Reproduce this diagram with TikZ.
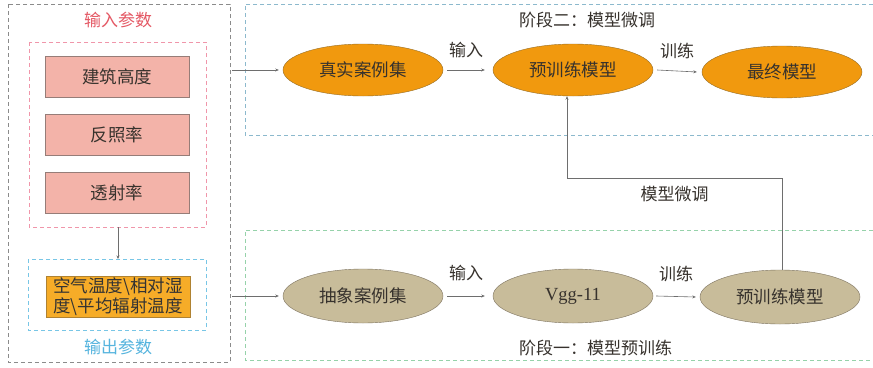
\documentclass[tikz,border=0pt]{standalone}
\usepackage{fontspec}
\newfontfamily\cjk{Noto Sans CJK SC}
\newfontfamily\lser{Liberation Serif}
\usetikzlibrary{shapes.geometric,arrows.meta}
\definecolor{ellorange}{RGB}{241,153,14}
\definecolor{ellorangeb}{RGB}{150,110,40}
\definecolor{elltan}{RGB}{200,188,154}
\definecolor{elltanb}{RGB}{125,115,95}
\definecolor{salmon}{RGB}{243,179,169}
\definecolor{salmonb}{RGB}{150,125,120}
\definecolor{outbox}{RGB}{246,172,40}
\definecolor{outboxb}{RGB}{175,130,50}
\definecolor{redtxt}{RGB}{228,88,100}
\definecolor{bluetxt}{RGB}{85,180,222}
\definecolor{pinkdash}{RGB}{240,150,170}
\definecolor{bluedash}{RGB}{120,198,230}
\definecolor{topdash}{RGB}{140,185,205}
\definecolor{botdash}{RGB}{150,210,170}
\definecolor{txt}{RGB}{55,50,45}
\definecolor{linec}{RGB}{110,110,110}
\begin{document}
\begin{tikzpicture}[x=1pt,y={(0pt,-1pt)},
  every node/.style={font=\cjk\fontsize{17.5}{20}\selectfont, text=txt, inner sep=0pt},
  ellA/.style={ellipse, draw=ellorangeb, fill=ellorange, minimum width=160, minimum height=52},
  ellB/.style={ellipse, draw=elltanb, fill=elltan, minimum width=160, minimum height=54},
  inbox/.style={rectangle, draw=salmonb, fill=salmon, minimum width=144, minimum height=41},
  dbox/.style={dashed, dash pattern=on 4pt off 3pt, line width=0.6pt},
  conn/.style={draw=linec, line width=0.6pt, -{Stealth[length=3.5pt,width=3pt]}},
  lbl/.style={font=\cjk\fontsize{17}{20}\selectfont, text=txt}
]
\useasboundingbox (0,0) rectangle (873,367);
\fill[white] (0,0) rectangle (873,367);
% left panel
\draw[dbox, draw=linec!80] (8,4) rectangle (230,362);
\node[lbl, text=redtxt] (tin) at (118,20) {输入参数};
\draw[dbox, draw=pinkdash] (29,42) rectangle (206,227);
\coordinate (pinkbot) at (118,227);
\node[inbox] (b1) at (117,76.5) {建筑高度};
\node[inbox] (b2) at (117,134.5) {反照率};
\node[inbox] (b3) at (117,192.5) {透射率};
\draw[dbox, draw=bluedash] (28,259) rectangle (206,330);
\coordinate (bluetop) at (118,259);
\node[rectangle, draw=outboxb, fill=outbox, minimum width=144, minimum height=41, align=center,
  font=\cjk\fontsize{17.5}{20}\selectfont, text=black!80] (out) at (118,296.5) {空气温度\textbackslash 相对湿\\度\textbackslash 平均辐射温度};
\node[lbl, text=bluetxt] (tout) at (118,347) {输出参数};
\draw[conn] (pinkbot) -- (bluetop);
% top stage
\draw[dbox, draw=topdash] (873,4) -- (245,4) -- (245,135) -- (873,135);
\node[lbl, anchor=west] (t2) at (519,20) {阶段二：模型微调};
\node[ellA] (r1) at (363,70) {真实案例集};
\node[ellA] (r2) at (573,70) {预训练模型};
\node[ellA] (r3) at (782,72) {最终模型};
% bottom stage
\draw[dbox, draw=botdash] (873,230) -- (245,230) -- (245,360) -- (873,360);
\node[lbl, anchor=west] (t1) at (519,348) {阶段一：模型预训练};
\node[ellB] (a1) at (363,296) {抽象案例集};
\node[ellB] (a2) at (573,296) {\lser\fontsize{18.5}{20}\selectfont Vgg-11};
\node[ellB] (a3) at (780,297) {预训练模型};
% connectors
\coordinate (lt) at (232,70);
\coordinate (lb) at (232,296);
\draw[conn] (lt) -- ([xshift=-4pt]r1.west);
\draw[conn] (lb) -- ([xshift=-4pt]a1.west);
\draw[conn] ([xshift=4pt]r1.east) -- node[lbl, above=12pt] (l1) {输入} ([xshift=-8pt]r2.west);
\draw[conn] ([xshift=4pt]r2.east) -- node[lbl, above=12pt] (l2) {训练} ([xshift=-5pt]r3.west);
\draw[conn] ([xshift=4pt]a1.east) -- node[lbl, above=15pt] (l3) {输入} ([xshift=-8pt]a2.west);
\draw[conn] ([xshift=3pt]a2.east) -- node[lbl, above=14pt] (l4) {训练} ([xshift=-4pt]a3.west);
\coordinate (fb) at (567,178);
\draw[conn] (a3.north -| 782,0) -- (782,178) -- node[lbl, below=7.5pt] (l5) {模型微调} (fb) -- (r2.south -| fb);
\end{tikzpicture}
\end{document}
